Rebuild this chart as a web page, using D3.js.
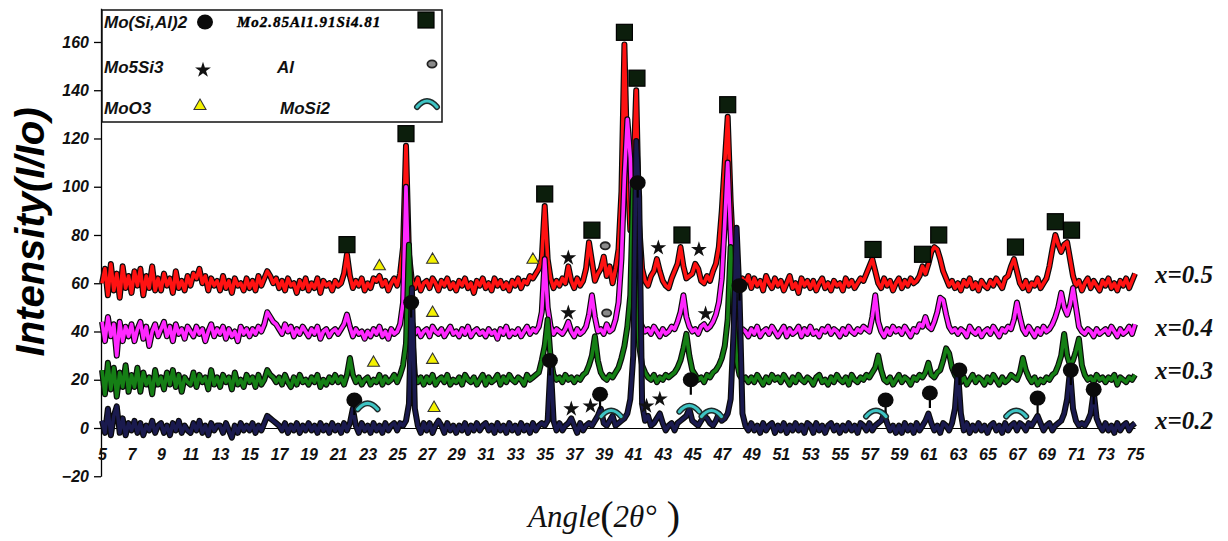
<!DOCTYPE html>
<html><head><meta charset="utf-8">
<script src="https://cdn.jsdelivr.net/npm/d3@7"></script>
<style>body{margin:0;background:#fff}svg{display:block}</style>
</head><body>
<svg id="c" width="1228" height="541"></svg>
<script>
// ---- data ----
const angleStart = 5, angleStep = 0.2;   // sampling grid of every pattern
const xTickLabels = [5,7,9,11,13,15,17,19,21,23,25,27,29,31,33,35,37,39,41,43,45,47,49,51,53,55,57,59,61,63,65,67,69,71,73,75];
const yTickLabels = [-20,0,20,40,60,80,100,120,140,160];
const seriesNames = ["x=0.5","x=0.4","x=0.3","x=0.2"];

const x05 = [
60,66,55,68,57,64,54,67,58,63, 56,65,59,66,55,63,58,67,57,62,
57,64,59,62,56,65,58,61,57,63, 59,64,62,66,60,63,57,62,59,61,
57,63,58,61,56,62,59,60,57,62, 58,61,57,63,59,62,65,63,60,62,
58,61,57,62,59,60,56,61,58,62, 57,60,58,62,56,61,59,60,57,61,
59,60,64,72,63,58,61,59,62,57, 60,58,62,61,63,59,61,57,60,62,
59,64,75,117,72,61,58,62,57,60, 61,58,62,60,57,61,59,62,58,60,
57,61,59,62,58,60,56,61,59,62, 58,60,57,62,59,61,58,60,57,61,
59,62,58,61,60,63,62,64,66,70, 92,70,62,58,61,59,62,60,67,61,
58,62,59,61,66,77,69,61,64,66, 71,63,67,60,66,74,98,159,108,82,
104,140,84,66,61,59,63,65,70,65, 61,59,58,62,65,68,75,67,62,63,
64,68,66,61,60,63,61,65,68,75, 90,110,129,94,70,61,59,62,60,63,
58,62,59,61,57,63,60,58,62,59, 61,57,60,63,58,60,56,62,59,61,
58,61,57,60,62,58,60,57,61,59, 60,57,62,59,61,58,60,62,61,64,
67,70,65,60,58,62,59,61,57,60, 62,58,61,59,62,60,61,63,67,64,
68,73,75,74,70,65,62,59,61,58, 60,57,61,59,62,58,60,57,61,59,
58,61,59,62,60,58,62,63,67,70, 65,60,58,61,57,60,59,62,58,60,
62,67,74,80,76,73,76,77,70,63, 59,61,57,60,62,58,61,59,57,61,
59,62,58,60,57,61,59,62,58,61, 64];

const x04 = [
44,36,46,38,43,30,44,36,42,38, 43,36,41,44,37,42,34,40,43,38,
41,44,38,42,36,43,39,41,37,42, 40,38,42,39,41,36,40,43,38,41,
39,42,37,41,38,40,36,42,39,41, 38,41,39,42,40,43,48,46,44,43,
41,39,43,40,42,38,41,39,42,40, 38,41,39,42,37,40,41,38,40,41,
39,41,43,47,42,38,41,39,40,37, 40,38,41,39,42,38,40,37,41,39,
40,43,52,100,58,44,39,41,38,40, 41,38,42,40,39,41,38,40,42,39,
40,38,41,39,42,38,40,41,39,40, 38,41,39,40,37,41,39,42,38,40,
39,41,38,40,42,39,41,40,42,48, 70,50,42,39,41,40,39,41,44,40,
38,41,39,40,42,47,55,46,40,41, 39,43,40,41,45,52,70,104,128,112,
72,52,45,42,40,41,39,42,40,38, 41,39,40,42,41,44,48,55,46,42,
40,41,39,42,43,41,42,44,47,52, 62,85,110,80,52,42,39,41,40,38,
41,39,42,38,40,41,39,42,40,38, 40,42,38,41,39,40,42,38,41,39,
42,39,40,38,41,40,42,39,41,40, 38,41,39,42,40,39,41,40,42,41,
40,46,55,44,40,38,41,39,42,40, 41,39,42,40,38,41,40,43,42,46,
42,41,44,48,54,53,47,42,40,41, 39,41,40,38,42,40,39,41,38,40,
41,39,42,40,38,41,40,42,41,45, 52,46,41,39,42,40,38,41,39,42,
40,41,43,46,50,56,50,47,51,58, 50,42,40,39,41,40,38,41,39,40,
41,39,42,40,38,41,39,40,42,39, 43];

const x03 = [
24,14,27,16,25,13,23,17,26,15, 22,17,25,15,23,18,21,14,24,18,
21,16,23,18,24,17,22,15,21,19, 18,23,17,22,19,21,16,24,18,21,
17,22,19,21,16,23,18,20,17,22, 19,21,17,22,18,20,24,22,21,19,
21,18,22,19,17,21,18,22,19,20, 18,21,19,22,17,20,18,21,19,22,
19,21,18,22,29,22,19,21,18,20, 21,18,20,19,22,18,21,19,20,22,
19,22,26,35,76,40,22,19,21,18, 21,19,22,18,20,21,19,22,18,20,
19,21,18,22,20,19,21,18,20,22, 18,21,19,20,22,18,21,19,22,20,
19,21,20,18,22,20,21,22,23,28, 34,45,29,22,20,21,19,22,20,21,
19,21,20,22,23,26,30,38,28,23, 21,20,22,21,23,25,29,34,42,55,
102,62,34,26,23,21,20,22,19,21, 20,22,21,22,23,25,28,33,39,30,
24,22,20,21,19,22,21,23,24,26, 29,34,45,75,50,28,22,20,21,19,
21,19,22,20,18,21,19,22,20,21, 19,22,20,18,21,19,22,20,19,21,
20,18,21,22,19,20,18,21,19,22, 20,19,21,18,22,20,19,21,20,22,
21,23,25,30,24,20,19,21,18,20, 22,19,21,20,18,21,20,22,21,23,
27,22,21,23,24,28,33,31,25,22, 20,19,21,18,20,22,19,21,20,18,
21,19,22,20,18,21,19,20,22,21, 20,23,29,24,21,19,21,18,20,19,
21,20,22,23,26,30,39,30,26,28, 32,37,26,22,20,21,19,22,20,21,
19,21,20,22,18,21,20,19,21,20, 22];

const x02 = [
3,-2,8,-3,5,9,-2,4,-3,2, -1,3,-2,2,-3,1,-1,3,-2,1,
2,-2,1,-3,2,-1,3,-2,1,-1, -2,2,-1,3,-2,1,-3,2,-1,1,
1,-2,2,-1,-4,1,-2,2,-1,1, -1,2,-2,1,-1,2,5,4,3,2,
1,-1,2,-2,1,-1,2,-2,1,-1, 2,-1,1,-2,2,-1,1,-2,2,-1,
1,-2,2,-1,2,8,1,-2,2,-1, 1,-2,2,-1,1,-2,2,-1,1,2,
-1,2,1,3,10,58,8,1,-2,2, -1,2,-2,1,3,1,-2,2,-1,1,
-2,1,-1,2,-2,1,-1,2,-1,1, 2,-1,1,-2,2,-1,1,-2,2,-1,
1,-2,2,-1,1,-2,2,-1,1,2, 1,3,27,3,-1,2,-1,1,2,4,
1,-2,2,-1,1,2,1,3,5,8, 2,1,3,5,1,2,3,4,6,12,
30,119,96,10,3,5,1,2,4,6, 2,-1,1,2,-1,2,3,4,5,8,
3,2,1,3,5,4,2,1,3,6, 3,4,6,12,40,83,55,6,1,-1,
2,-1,1,-2,2,-1,1,2,-2,1, -1,2,-2,1,-1,2,-1,1,-2,2,
1,-2,2,-1,1,-2,1,2,-1,1, -2,1,-1,2,-1,1,-2,2,1,-1,
2,-1,1,2,3,6,2,-1,1,-2, 1,-2,2,-1,1,-2,2,-1,1,3,
6,2,-1,1,-2,2,1,-1,2,8, 24,6,-1,2,-2,1,-1,2,-1,1,
-2,1,2,-1,1,-2,2,-1,1,2, -1,2,1,-1,2,1,3,5,2,-1,
1,2,-1,1,2,3,6,12,24,8, 3,1,2,1,3,6,15,4,1,-1,
2,-1,1,-2,2,-1,1,2,-1,1, 2];

// phase markers [angle, intensity]
const markSquare = [[21.6,76],[25.6,122],[35.0,97],[38.2,82],[40.4,164],[41.25,145],[44.3,80],[47.4,134],[57.25,74],[60.6,72],[61.7,80],[66.9,75],[69.6,85.5],[70.7,82]];
const markStar = [[36.6,70.5],[42.7,74.7],[45.45,74],[36.6,47.7],[45.9,47.3],[36.8,7.9],[38.1,9.1],[41.9,9.1],[42.8,12]];
const markTriangle = [[23.8,67],[27.4,69.7],[34.2,69.7],[27.4,47.7],[23.4,27],[27.4,28.2],[27.5,8.3]];
const markAl = [[39.1,75.5],[39.2,47.7]];
const markCircle = [[22.1,11.6],[25.95,52],[35.35,28],[38.75,14],[41.3,101.7],[44.9,20],[48.2,59],[58.1,11.6],[61.1,14.5],[63.1,24],[68.4,12.4],[70.65,24],[72.2,16]];
const markArc = [[23.0,9],[39.5,6],[44.8,8],[46.3,6],[57.45,6],[66.95,6]];

// ---- drawing ----
const svg = d3.select("#c");
const x = d3.scaleLinear().domain([5,75]).range([102,1135]);
const y = d3.scaleLinear().domain([-20,174]).range([476.25,8.2]);
const ang = i => angleStart + angleStep*i;

const series = [
  {name:seriesNames[0], values:x05, color:"#ff1212"},
  {name:seriesNames[1], values:x04, color:"#ff28ff"},
  {name:seriesNames[2], values:x03, color:"#157f15"},
  {name:seriesNames[3], values:x02, color:"#1a1a4e"}
];
const line = d3.line().x((d,i)=>x(ang(i))).y(d=>y(d));

// axes
const ya = svg.append("g").attr("transform","translate(101,0)")
  .call(d3.axisLeft(y).tickValues(yTickLabels).tickSize(7).tickSizeOuter(0).tickPadding(5));
ya.select(".domain").attr("stroke","#000").attr("stroke-width",1.3);
ya.selectAll(".tick line").attr("stroke","#000").attr("stroke-width",1.3);
ya.selectAll("text").attr("font-family","Liberation Sans, Arial").attr("font-size",16)
  .attr("font-weight","bold").attr("font-style","italic").attr("fill","#111");

const xa = svg.append("g").attr("transform",`translate(0,${y(0)})`)
  .call(d3.axisBottom(x).tickValues(xTickLabels).tickFormat(d3.format("d")).tickSize(0).tickSizeOuter(0).tickPadding(21));
xa.select(".domain").attr("stroke","#000").attr("stroke-width",1.2);
xa.selectAll("text").attr("font-family","Liberation Sans, Arial").attr("font-size",16)
  .attr("font-weight","bold").attr("font-style","italic").attr("fill","#111");

// traces: dark outline underneath, colour band on top
series.forEach(s=>{
  svg.append("path").datum(s.values).attr("d",line).attr("fill","none")
    .attr("stroke","#0a0a0a").attr("stroke-width",6).attr("stroke-linejoin","round");
  svg.append("path").datum(s.values).attr("d",line).attr("fill","none")
    .attr("stroke",s.color).attr("stroke-width",3.6).attr("stroke-linejoin","round");
});

// series labels
const labelDy = [-6,-1.5,-7,-5];
series.forEach((s,i)=>{
  const base = d3.median(s.values);
  svg.append("text").attr("x",1155).attr("y",y(base)+labelDy[i]+8.5)
    .attr("font-family","Liberation Serif, Times New Roman").attr("font-size",25)
    .attr("font-weight","bold").attr("font-style","italic").attr("fill","#111").text(s.name);
});

// marker painters
function square(g,cx,cy){
  g.append("rect").attr("x",cx-8).attr("y",cy-8).attr("width",16).attr("height",16)
   .attr("fill","#0c1e0c").attr("stroke","#000").attr("stroke-width",1.2);
}
function star(g,cx,cy){
  g.append("path").attr("d",d3.symbol(d3.symbolStar,78)()).attr("transform",`translate(${cx},${cy})`)
   .attr("fill","#111");
}
function tri(g,cx,cy){
  g.append("path").attr("d",d3.symbol(d3.symbolTriangle,62)()).attr("transform",`translate(${cx},${cy})`)
   .attr("fill","#f4f200").attr("stroke","#333").attr("stroke-width",1.1);
}
function al(g,cx,cy){
  g.append("ellipse").attr("cx",cx).attr("cy",cy).attr("rx",4.6).attr("ry",3.6)
   .attr("fill","#8a8a8a").attr("stroke","#222").attr("stroke-width",1.8);
}
function circ(g,cx,cy,stem){
  if(stem) g.append("line").attr("x1",cx).attr("x2",cx).attr("y1",cy).attr("y2",cy+15)
     .attr("stroke","#000").attr("stroke-width",2.2);
  g.append("ellipse").attr("cx",cx).attr("cy",cy).attr("rx",8).attr("ry",7.5).attr("fill","#0a0a0a");
}
function arc(g,cx,cy){
  const p = `M${cx-10},${cy+3} Q${cx},${cy-9} ${cx+10},${cy+3}`;
  g.append("path").attr("d",p).attr("fill","none").attr("stroke","#1e2a2a").attr("stroke-width",6).attr("stroke-linecap","round");
  g.append("path").attr("d",p).attr("fill","none").attr("stroke","#3ec4c4").attr("stroke-width",3.2).attr("stroke-linecap","round");
}

const mg = svg.append("g");
markSquare.forEach(d=>square(mg,x(d[0]),y(d[1])));
markStar.forEach(d=>star(mg,x(d[0]),y(d[1])));
markTriangle.forEach(d=>tri(mg,x(d[0]),y(d[1])));
markAl.forEach(d=>al(mg,x(d[0]),y(d[1])));
markCircle.forEach(d=>circ(mg,x(d[0]),y(d[1]),true));
markArc.forEach(d=>arc(mg,x(d[0]),y(d[1])));

// legend
const lg = svg.append("g");
lg.append("rect").attr("x",102).attr("y",10).attr("width",340).attr("height",112)
  .attr("fill","#fff").attr("stroke","#111").attr("stroke-width",1.5);
const lt = (tx,ty,t)=>lg.append("text").attr("x",tx).attr("y",ty).attr("font-family","Liberation Sans, Arial")
  .attr("font-size",17).attr("font-weight","bold").attr("font-style","italic").attr("fill","#111").text(t);
lt(104,28,"Mo(Si,Al)2"); lt(104,73,"Mo5Si3"); lt(104,114,"MoO3");
lt(277,73,"Al"); lt(280,114,"MoSi2");
lg.append("text").attr("x",237).attr("y",27).attr("font-family","Liberation Serif, Times New Roman")
  .attr("font-size",15).attr("font-weight","bold").attr("font-style","italic").attr("letter-spacing",1)
  .attr("fill","#000").attr("stroke","#000").attr("stroke-width",0.4).text("Mo2.85Al1.91Si4.81");
circ(lg,205,22,false); square(lg,426,20); star(lg,203,70); al(lg,432,64); tri(lg,200,106); arc(lg,427,104);

// axis titles
svg.append("text").attr("transform","translate(44,232) rotate(-90)").attr("text-anchor","middle")
  .attr("font-family","Liberation Sans, Arial").attr("font-size",40).attr("font-weight","bold")
  .attr("font-style","italic").attr("fill","#000").text("Intensity(I/Io)");
const xt = svg.append("text").attr("x",604).attr("y",527).attr("text-anchor","middle")
  .attr("font-family","Liberation Serif, Times New Roman").attr("font-size",31).attr("fill","#111");
xt.append("tspan").attr("font-style","italic").text("Angle");
xt.append("tspan").attr("font-size",40).attr("dy",2).text("(");
xt.append("tspan").attr("font-style","italic").attr("dy",-2).text("2θ°");
xt.append("tspan").attr("font-size",40).attr("dy",2).text(" )");
</script>
</body></html>
